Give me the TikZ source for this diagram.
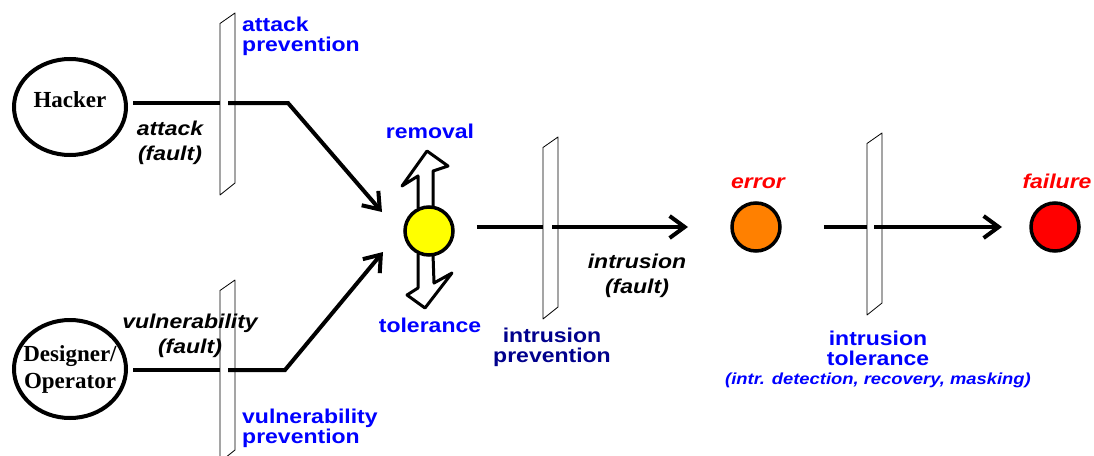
\documentclass[tikz,border=0pt]{standalone}
\usepackage{fontspec}
\setmainfont{Liberation Serif}
\newfontfamily\lblfont{Liberation Sans}[FakeStretch=1.15]
\usetikzlibrary{arrows.meta,shapes.geometric}
\definecolor{pureblue}{RGB}{0,0,255}
\definecolor{navyblue}{RGB}{0,0,140}
\definecolor{errorange}{RGB}{255,128,0}
\definecolor{failred}{RGB}{255,0,0}
\definecolor{stateyellow}{RGB}{255,255,0}

\begin{document}
\begin{tikzpicture}[x=1pt,y=-1pt,
  flow/.style={line width=4pt},
  flowarrow/.style={line width=4pt,-{Straight Barb[length=15pt,width=22pt]}},
  barrierline/.style={draw=black,line width=0.8pt,fill=white,line join=round},
  barrier/.pic={\draw[barrierline] (-7.5,10.5) -- (7.5,0) -- (7.5,170) -- (-7.5,182) -- cycle;},
  actor/.style={ellipse,draw,line width=4pt,inner xsep=-12pt,inner ysep=0pt,
    minimum width=112pt,font=\bfseries\fontsize{23}{27}\selectfont,align=center},
  state/.style={circle,draw,line width=3.5pt,minimum size=48pt,inner sep=0pt},
  hollow/.style={draw=black,line width=3pt,fill=white,line join=round},
  bluelbl/.style={font=\lblfont\bfseries\fontsize{20}{20}\selectfont,text=pureblue,inner sep=0pt},
  navylbl/.style={font=\lblfont\bfseries\fontsize{20}{20}\selectfont,text=navyblue,inner sep=0pt},
  faultlbl/.style={font=\lblfont\bfseries\itshape\fontsize{20}{25}\selectfont,text=black,inner sep=0pt},
  redlbl/.style={font=\lblfont\bfseries\itshape\fontsize{20}{20}\selectfont,text=failred,inner sep=0pt},
  notelbl/.style={font=\lblfont\bfseries\itshape\fontsize{16}{16}\selectfont,text=pureblue,inner sep=0pt}
]
\useasboundingbox (0,0) rectangle (1094,455);

% barriers (drawn first, connectors pass over them)
\pic at (227.5,13) {barrier};
\pic at (227.5,280) {barrier};
\pic at (550.5,137) {barrier};
\pic at (874.5,133) {barrier};

% sources of faults
\node[actor,minimum height=96pt,text height=12pt,text depth=12pt] (hacker) at (70,107) {Hacker};
\node[actor,minimum height=98pt] (designer) at (70,369) {Designer/\\Operator};

% removal / tolerance arrows behind the fault state
\begin{scope}[shift={(429,231)}]
  \draw[hollow] (-11,-23) -- (-11,-55) -- (-27,-45) -- (-2,-80) -- (19,-65) -- (4,-60) -- (4,-23);
  \draw[hollow] (-11,23) -- (-11,57) -- (-22,64) -- (-4,77) -- (23,42) -- (5,52) -- (4,23);
\end{scope}

% states
\node[state,fill=stateyellow] (fault) at (429,231) {};
\node[state,fill=errorange] (error) at (756,227) {};
\node[state,fill=failred] (failure) at (1055,227) {};

% connector waypoints
\coordinate (hcut) at (220,103);
\coordinate (hgo) at (228,103);
\coordinate (hbend) at (288,103);
\coordinate (htip) at (382,212);
\coordinate (dcut) at (220,370);
\coordinate (dgo) at (228,370);
\coordinate (dbend) at (285,370);
\coordinate (dtip) at (383,252);
\coordinate (icut) at (543,227);
\coordinate (igo) at (552,227);
\coordinate (itip) at (688,227);
\coordinate (ecut) at (867,227);
\coordinate (ego) at (874,227);
\coordinate (etip) at (1002,227);

% attack path
\draw[flow] ([xshift=5pt]hacker.east |- hcut) -- (hcut);
\draw[flowarrow] (hgo) -- (hbend) -- (htip);
% vulnerability path
\draw[flow] ([xshift=5pt]designer.east |- dcut) -- (dcut);
\draw[flowarrow] (dgo) -- (dbend) -- (dtip);
% intrusion path
\draw[flow] ([xshift=22pt]fault.east |- icut) -- (icut);
\draw[flowarrow] (igo) -- (itip);
% error to failure
\draw[flow] ([xshift=42pt]error.east) -- (ecut);
\draw[flowarrow] (ego) -- (etip);

% labels (base anchor sits on the last line)
\node[bluelbl,anchor=base west,align=left] (attprev) at (242,51) {attack\\prevention};
\node[faultlbl,anchor=base,align=center] (attfault) at (170,160) {attack\\(fault)};
\node[faultlbl,anchor=base,align=center] (vulfault) at (190,353) {vulnerability\\(fault)};
\node[bluelbl,anchor=base west,align=left] (vulprev) at (242,443) {vulnerability\\prevention};
\node[bluelbl,anchor=base] (removal) at (430,138) {removal};
\node[bluelbl,anchor=base] (tolerance) at (430,332) {tolerance};
\node[navylbl,anchor=base,align=center] (intprev) at (552,362) {intrusion\\prevention};
\node[faultlbl,anchor=base,align=center] (intfault) at (637,293) {intrusion\\(fault)};
\node[redlbl,anchor=base] (errlbl) at (758,188) {error};
\node[redlbl,anchor=base] (faillbl) at (1057,188) {failure};
\node[bluelbl,anchor=base,align=center] (inttol) at (878,365) {intrusion\\tolerance};
\node[notelbl,anchor=base] (inttolnote) at (878,384) {(intr. detection, recovery, masking)};
\end{tikzpicture}
\end{document}
